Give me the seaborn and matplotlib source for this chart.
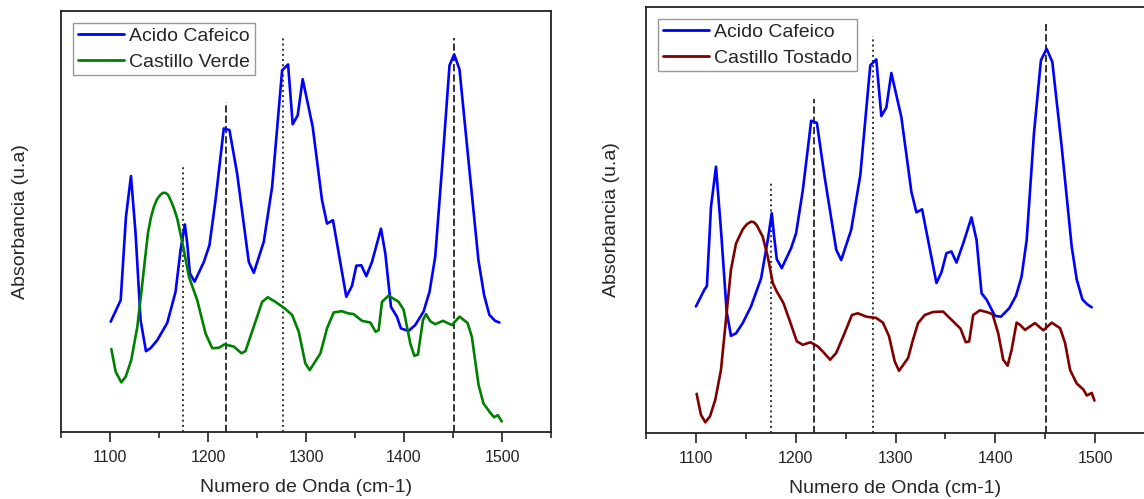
import numpy as np
import pandas as pd
import matplotlib
matplotlib.use("Agg")
import matplotlib.pyplot as plt
import seaborn as sns
from matplotlib.ticker import MultipleLocator

# ---------------- data ----------------
# Left panel: Acido Cafeico
ac1_x = [1100.7, 1110.9, 1116.3, 1121.4, 1126.1, 1131.2, 1136.7, 1141.4, 1148.2, 1158.4,
         1166.9, 1172.0, 1176.4, 1178.8, 1181.5, 1186.3, 1195.8, 1201.5, 1207.7, 1216.1,
         1221.9, 1229.7, 1241.6, 1246.7, 1256.9, 1265.4, 1275.6, 1281.7, 1286.4, 1291.5,
         1296.6, 1306.8, 1316.3, 1321.4, 1327.5, 1341.1, 1346.9, 1351.3, 1356.4, 1361.5,
         1367.3, 1376.5, 1380.9, 1386.7, 1392.7, 1396.8, 1404.6, 1411.4, 1419.9, 1426.0,
         1431.8, 1438.6, 1446.4, 1451.2, 1456.6, 1465.7, 1475.9, 1481.7, 1487.1, 1492.9,
         1497.3]
ac1_y = [0.262, 0.313, 0.511, 0.608, 0.472, 0.266, 0.192, 0.199, 0.218, 0.259,
         0.333, 0.432, 0.493, 0.448, 0.377, 0.357, 0.404, 0.444, 0.551, 0.721,
         0.717, 0.614, 0.404, 0.378, 0.452, 0.582, 0.859, 0.873, 0.731, 0.752,
         0.838, 0.725, 0.551, 0.495, 0.503, 0.321, 0.347, 0.395, 0.396, 0.370,
         0.404, 0.483, 0.424, 0.297, 0.274, 0.246, 0.240, 0.254, 0.286, 0.333,
         0.416, 0.622, 0.871, 0.897, 0.861, 0.646, 0.408, 0.325, 0.278, 0.264,
         0.260]

# Left panel: Castillo Verde
cv_x = [1101.4, 1105.8, 1111.5, 1116.0, 1121.7, 1127.9, 1133.0, 1138.7, 1141.8, 1144.8,
        1148.0, 1151.6, 1154.2, 1156.7, 1159.3, 1161.8, 1165.0, 1168.6, 1174.7, 1180.5,
        1189.0, 1197.5, 1204.3, 1211.1, 1216.8,
        1226.3, 1234.1, 1238.2, 1248.4, 1255.2, 1261.0, 1268.8, 1278.0, 1285.8, 1292.6,
        1299.3, 1303.8, 1314.7, 1321.4, 1328.2, 1336.7, 1342.5, 1348.6, 1357.1, 1365.6,
        1371.0, 1374.1, 1377.5, 1384.3, 1394.5, 1399.6, 1406.4, 1410.5, 1414.2, 1419.3,
        1422.4, 1426.8, 1431.8, 1439.7, 1448.8, 1456.6, 1464.8, 1469.2, 1476.0, 1481.0,
        1487.8, 1491.9, 1495.7, 1499.7]
cv_y = [0.197, 0.143, 0.118, 0.131, 0.171, 0.250, 0.353, 0.472, 0.510, 0.535,
        0.553, 0.564, 0.568, 0.568, 0.563, 0.551, 0.533, 0.507, 0.440, 0.369,
        0.313, 0.234, 0.199, 0.200, 0.208,
        0.203, 0.187, 0.192, 0.262, 0.309, 0.320, 0.309, 0.294, 0.278, 0.238,
        0.163, 0.147, 0.187, 0.246, 0.284, 0.287, 0.282, 0.280, 0.264, 0.260,
        0.238, 0.242, 0.309, 0.324, 0.309, 0.290, 0.210, 0.181, 0.184, 0.266,
        0.280, 0.263, 0.256, 0.264, 0.254, 0.274, 0.259, 0.226, 0.112, 0.068,
        0.046, 0.035, 0.040, 0.025]

# Right panel: Acido Cafeico
ac2_x = [1100.0, 1108.4, 1111.0, 1115.1, 1120.1, 1125.1, 1130.8, 1135.1, 1140.2, 1146.9,
         1155.2, 1165.3, 1172.0, 1176.0, 1178.0, 1181.0, 1186.0, 1195.4, 1200.4, 1207.1,
         1215.5, 1221.2, 1228.9, 1240.6, 1245.6, 1255.6, 1264.7, 1274.7, 1280.7, 1285.8,
         1290.8, 1295.8, 1305.8, 1315.9, 1320.9, 1326.6, 1341.0, 1346.0, 1351.0, 1356.0,
         1361.1, 1367.8, 1376.1, 1381.2, 1386.2, 1391.2, 1399.6, 1405.6, 1414.0, 1420.7,
         1426.3, 1431.4, 1438.7, 1445.7, 1451.4, 1457.1, 1466.5, 1476.5, 1481.5, 1487.2,
         1491.6, 1496.6]
ac2_y = [0.297, 0.336, 0.345, 0.531, 0.625, 0.477, 0.285, 0.228, 0.234, 0.258,
         0.297, 0.363, 0.453, 0.516, 0.469, 0.408, 0.387, 0.434, 0.469, 0.570,
         0.733, 0.728, 0.602, 0.430, 0.406, 0.477, 0.605, 0.863, 0.877, 0.744,
         0.764, 0.845, 0.742, 0.566, 0.518, 0.525, 0.352, 0.377, 0.422, 0.426,
         0.400, 0.445, 0.506, 0.453, 0.328, 0.313, 0.275, 0.273, 0.293, 0.322,
         0.367, 0.453, 0.703, 0.875, 0.902, 0.871, 0.672, 0.438, 0.361, 0.314,
         0.303, 0.295]

# Right panel: Castillo Tostado
ct_x = [1100.7, 1105.0, 1109.4, 1114.1, 1119.4, 1125.1, 1130.1, 1135.1, 1140.2, 1146.9,
        1151.0, 1155.2, 1158.0, 1160.9, 1166.9, 1172.0, 1177.0, 1181.0, 1187.7, 1195.4,
        1201.1, 1207.1,
        1214.8, 1222.2, 1227.2, 1234.5, 1240.6, 1248.9, 1256.3, 1262.3, 1270.7, 1280.7,
        1287.4, 1293.5, 1299.2, 1303.5, 1312.6, 1317.5, 1322.6, 1329.3, 1337.6, 1347.7,
        1356.0, 1365.1, 1370.4, 1373.8, 1377.8, 1384.5, 1391.2, 1397.2, 1402.9, 1407.9,
        1412.3, 1416.3, 1421.3, 1424.7, 1429.7, 1439.7, 1448.1, 1456.5, 1464.9, 1469.9,
        1474.9, 1481.6, 1488.3, 1491.6, 1496.6, 1499.3]
ct_y = [0.092, 0.043, 0.025, 0.039, 0.078, 0.148, 0.266, 0.383, 0.445, 0.478,
        0.490, 0.496, 0.495, 0.488, 0.461, 0.414, 0.352, 0.332, 0.305, 0.254,
        0.215, 0.207,
        0.213, 0.203, 0.191, 0.172, 0.188, 0.234, 0.277, 0.281, 0.273, 0.270,
        0.259, 0.227, 0.168, 0.146, 0.176, 0.219, 0.258, 0.277, 0.284, 0.285,
        0.266, 0.245, 0.213, 0.215, 0.277, 0.288, 0.284, 0.279, 0.234, 0.172,
        0.158, 0.195, 0.259, 0.254, 0.242, 0.258, 0.241, 0.259, 0.246, 0.211,
        0.148, 0.116, 0.102, 0.088, 0.094, 0.076]

# Reference marker lines (wavenumber, top value, style)
vl_x = [1175, 1218, 1277, 1451]
vl_top_left = [0.630, 0.784, 0.938, 0.937]
vl_top_right = [0.590, 0.785, 0.931, 0.961]
vl_style = [":", "--", ":", "--"]

x_ticks = [1100, 1200, 1300, 1400, 1500]
series_names = ["Acido Cafeico", "Castillo Verde", "Castillo Tostado"]
colors = {"Acido Cafeico": "#0000FF", "Castillo Verde": "#008000", "Castillo Tostado": "#800000"}

# ---------------- styling ----------------
sns.set_style("ticks")
plt.rcParams["font.family"] = ["Liberation Sans", "DejaVu Sans"]

fig = plt.figure(figsize=(11.44, 4.99), dpi=100)
ax1 = fig.add_axes([0.0533, 0.1343, 0.4284, 0.8437])
ax2 = fig.add_axes([0.5647, 0.1323, 0.4362, 0.8537])

df_left = pd.concat([
    pd.DataFrame({"x": ac1_x, "y": ac1_y, "serie": series_names[0]}),
    pd.DataFrame({"x": cv_x, "y": cv_y, "serie": series_names[1]}),
])
df_right = pd.concat([
    pd.DataFrame({"x": ac2_x, "y": ac2_y, "serie": series_names[0]}),
    pd.DataFrame({"x": ct_x, "y": ct_y, "serie": series_names[2]}),
])


def draw(ax, df, tops, ylabelpad):
    for xv, top, ls in zip(vl_x, tops, vl_style):
        ax.vlines(xv, 0, top, colors="#333333", linestyles=ls, linewidth=1.4, zorder=1)
    sns.lineplot(data=df, x="x", y="y", hue="serie", palette=colors, sort=False,
                 estimator=None, linewidth=1.9, ax=ax, zorder=3)
    ax.set_xlim(1050, 1550)
    ax.set_ylim(0, 1)
    ax.set_xticks(x_ticks)
    ax.xaxis.set_minor_locator(MultipleLocator(50))
    ax.set_yticks([])
    ax.tick_params(axis="x", which="major", length=7, width=1.2, direction="out",
                   labelsize=11.5, pad=6, colors="#222222")
    ax.tick_params(axis="x", which="minor", length=4, width=1.2, direction="out")
    for s in ax.spines.values():
        s.set_visible(True)
        s.set_linewidth(1.3)
        s.set_color("#222222")
    ax.set_xlabel("Numero de Onda (cm-1)", fontsize=14, labelpad=10)
    ax.set_ylabel("Absorbancia (u.a)", fontsize=14, labelpad=ylabelpad)
    leg = ax.legend(loc="upper left", fontsize=14, frameon=True, fancybox=False,
                    edgecolor="#999999", framealpha=1, handlelength=2.4,
                    borderaxespad=0.6, borderpad=0.25, labelspacing=0.4,
                    handletextpad=0.25)
    leg.get_frame().set_linewidth(1.0)
    for line in leg.get_lines():
        line.set_linewidth(2.0)


draw(ax1, df_left, vl_top_left, 23)
draw(ax2, df_right, vl_top_right, 19)

fig.savefig("out.png", dpi=100)
